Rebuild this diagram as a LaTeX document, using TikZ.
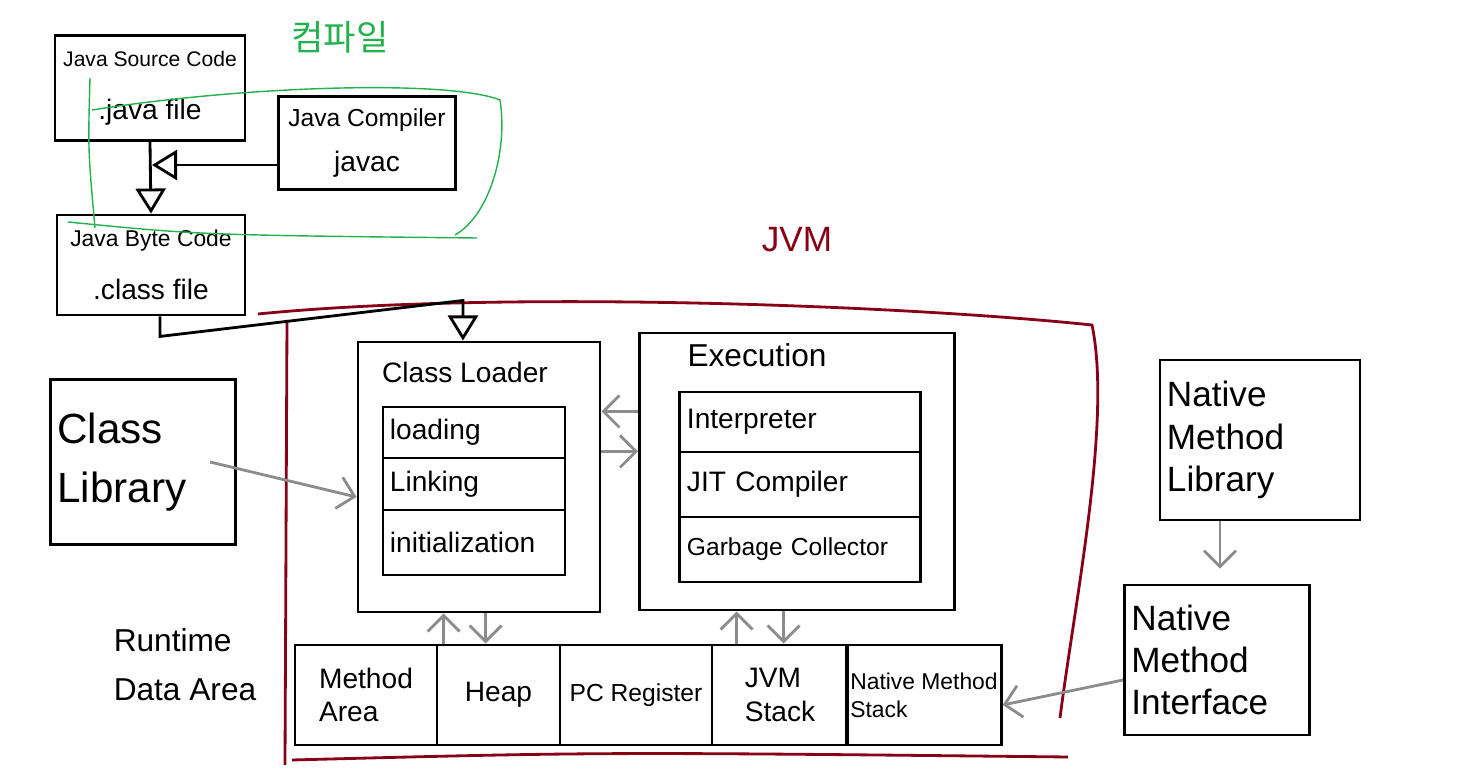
\documentclass[tikz,border=0pt]{standalone}
\usepackage{fontspec}
\setmainfont{Liberation Sans}
\newfontfamily\krfont{Noto Sans CJK KR}
\usetikzlibrary{arrows.meta}
\usetikzlibrary{calc}

\definecolor{jvmred}{RGB}{136,0,21}
\definecolor{compgreen}{RGB}{34,177,76}
\definecolor{arrowgray}{RGB}{140,140,140}

\begin{document}
\begin{tikzpicture}[x=0.01cm, y=-0.01cm, thick,
        box_style/.style={draw=black, thick, align=center, inner sep=2pt},
        side_box_style/.style={draw=black, thick, align=left, inner sep=2pt},
        row_style/.style={draw=black, thick, align=left, inner sep=2pt, font=\footnotesize},
        cell_style/.style={draw=black, thick, align=left, inner sep=1pt, minimum height=1cm, font=\footnotesize},
        edge_style/.style={draw=black, thick, -{Triangle[open,length=2.5mm,width=3mm]}},
        gray_edge_style/.style={draw=arrowgray, thick, -{Straight Barb[length=1.6mm,width=3.2mm]}},
        jvm_style/.style={draw=jvmred, thick},
        green_style/.style={draw=compgreen, thin}]

        \useasboundingbox (0,0) rectangle (1462,773);

        % compile step
        \node [box_style, minimum width=1.9cm, minimum height=1.05cm] (source) at (150,88)
            {{\fontsize{6}{7}\selectfont Java Source Code}\\[3pt]\footnotesize .java file};
        \node [box_style, minimum width=1.77cm, minimum height=0.93cm] (compiler) at (367,143)
            {{\fontsize{7}{8}\selectfont Java Compiler}\\[1pt]\footnotesize javac};
        \node [box_style, minimum width=1.88cm, minimum height=1.0cm] (bytecode) at (151,265)
            {{\fontsize{6.5}{7.5}\selectfont Java Byte Code}\\[3pt]\footnotesize .class file};
        \node [text=compgreen] (compile_label) at (340,37) {\krfont 컴파일};
        \draw [green_style] (92,110) .. controls (250,85) and (450,80) .. (500,100)
            .. controls (508,150) and (490,215) .. (455,235);
        \draw [green_style] (68,222) .. controls (200,235) .. (477,238);
        \draw [green_style] (90,78) .. controls (88,150) .. (95,228);

        \coordinate (merge) at (152,165);
        \draw [edge_style] (source.south) -- (bytecode.north);
        \draw [edge_style] (compiler.west |- merge) -- (merge);

        % jvm
        \node [text=jvmred] (jvm_label) at (797,240) {JVM};
        \draw [jvm_style] (258,314) .. controls (500,290) and (900,305) .. (1092,325)
            .. controls (1112,420) and (1075,600) .. (1060,718);
        \draw [jvm_style] (287,320) -- (285,765);
        \draw [jvm_style] (292,760) .. controls (600,752) .. (1068,757);

        \node [side_box_style, text width=1.71cm, minimum height=1.65cm, font=\large] (class_lib) at (143,462)
            {Class\\[3pt]Library};

        \node [box_style, minimum width=2.42cm, minimum height=2.70cm] (loader) at (479,477) {};
        \node [font=\footnotesize] (loader_title) at (465,372) {Class Loader};
        \node [row_style, text width=1.68cm, minimum height=0.51cm] (loading) at (474,432.5) {loading};
        \node [row_style, text width=1.68cm, minimum height=0.52cm] (linking) at (474,484) {Linking};
        \node [row_style, text width=1.68cm, minimum height=0.65cm] (init) at (474,542.5) {initialization};

        \node [box_style, minimum width=3.15cm, minimum height=2.77cm] (execution) at (797,471.5) {};
        \node [font=\small] (exec_title) at (757,355) {Execution};
        \node [row_style, text width=2.26cm, minimum height=0.60cm] (interp) at (800,422) {Interpreter};
        \node [row_style, text width=2.26cm, minimum height=0.65cm] (jit) at (800,484.5) {JIT Compiler};
        \node [row_style, text width=2.26cm, minimum height=0.65cm, font=\scriptsize] (gc) at (800,549.5) {Garbage Collector};

        % runtime data area
        \node [align=left, font=\small] (runtime_label) at (185,665) {Runtime\\[3pt]Data Area};
        \node [cell_style, minimum width=1.42cm] (method_area) at (366,695) {Method\\Area};
        \node [cell_style, minimum width=1.23cm] (heap) at (498.5,695) {Heap};
        \node [cell_style, minimum width=1.52cm, font=\fontsize{7}{8}\selectfont] (pc_reg) at (636,695) {PC Register};
        \node [cell_style, minimum width=1.36cm] (jvm_stack) at (780,695) {JVM\\Stack};
        \node [cell_style, minimum width=1.52cm, font=\fontsize{6.5}{8}\selectfont] (native_stack) at (924,695) {Native Method\\Stack};

        % native side
        \node [side_box_style, text width=1.86cm, minimum height=1.6cm] (native_lib) at (1260,440)
            {Native\\Method\\Library};
        \node [side_box_style, text width=1.71cm, minimum height=1.5cm] (native_if) at (1217,660)
            {Native\\Method\\Interface};

        \draw [edge_style] ([xshift=0.09cm]bytecode.south) -- ++(0,20)
            -- ([xshift=-0.16cm,yshift=0.4cm]loader.north) -- ([xshift=-0.16cm]loader.north);
        \draw [gray_edge_style] ([xshift=-0.27cm]class_lib.east) -- ([yshift=-0.2cm]loader.west);
        \draw [gray_edge_style] ([yshift=0.6cm]execution.west) -- ([yshift=0.6cm]execution.west -| loader.east);
        \draw [gray_edge_style] ([yshift=0.2cm]execution.west -| loader.east) -- ([yshift=0.2cm]execution.west);
        \draw [gray_edge_style] ([xshift=0.08cm]heap.north west) -- ([xshift=0.08cm]heap.north west |- loader.south);
        \draw [gray_edge_style] ([xshift=0.5cm]heap.north west |- loader.south) -- ([xshift=0.5cm]heap.north west);
        \draw [gray_edge_style] ([xshift=0.26cm]jvm_stack.north west) -- ([xshift=0.26cm]jvm_stack.north west |- execution.south);
        \draw [gray_edge_style] ([xshift=0.73cm]jvm_stack.north west |- execution.south) -- ([xshift=0.73cm]jvm_stack.north west);
        \draw [gray_edge_style] ([xshift=-0.4cm]native_lib.south) -- ([xshift=-0.4cm,yshift=0.15cm]native_lib.south |- native_if.north);
        \draw [gray_edge_style] ([yshift=-0.2cm]native_if.west) -- ([yshift=-0.1cm]native_stack.east);
\end{tikzpicture}
\end{document}
